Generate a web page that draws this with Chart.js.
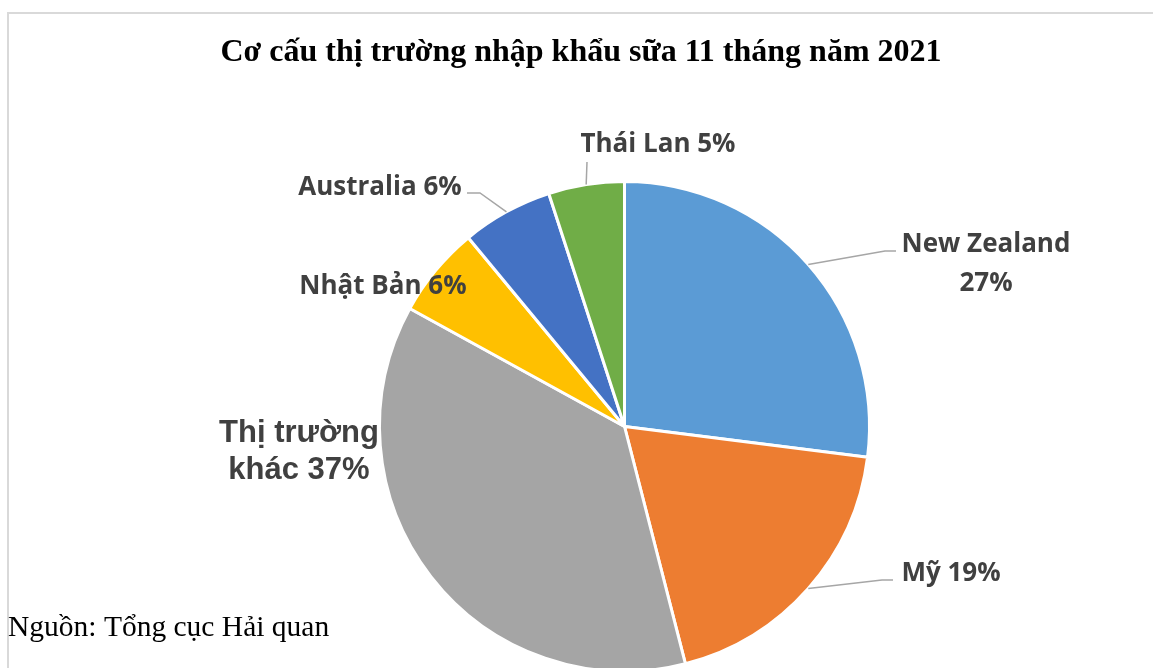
<!DOCTYPE html>
<html>
<head>
<meta charset="utf-8">
<script src="https://cdn.jsdelivr.net/npm/chart.js@4.4.0/dist/chart.umd.min.js"></script>
<style>
html, body { margin: 0; padding: 0; background: #fff; overflow: hidden; }
#wrap { position: relative; width: 1153px; height: 700px; }
</style>
</head>
<body>
<div id="wrap"><canvas id="pieChart" width="1153" height="700"></canvas></div>
<script>
// Du lieu: co cau thi truong nhap khau sua 11 thang nam 2021 (%)
const markets = ['New Zealand', 'Mỹ', 'Thị trường khác', 'Nhật Bản', 'Australia', 'Thái Lan'];
const shares = [27, 19, 37, 6, 6, 5];
const sliceColors = ['#5B9BD5', '#ED7D31', '#A5A5A5', '#FFC000', '#4472C4', '#70AD47'];

const chartTitle = 'Cơ cấu thị trường nhập khẩu sữa 11 tháng năm 2021';
const sourceNote = 'Nguồn: Tổng cục Hải quan';

// Bo cuc nhan (vi tri chu, diem gay cua duong dan)
const labelLayout = [
    { lines: ['New Zealand', '27%'], x: 986, y: 252, lh: 39, elbow: [885, 251], end: [896, 251] },
    { lines: ['Mỹ 19%'], x: 951, y: 581, elbow: [882, 580], end: [893, 580] },
    { lines: ['Thị trường', 'khác 37%'], x: 299, y: 442, lh: 37, font: 'bold 31px "Liberation Sans", Arial, sans-serif' },
    { lines: ['Nhật Bản 6%'], x: 383, y: 294 },
    { lines: ['Australia 6%'], x: 380, y: 195, elbow: [480, 193], end: [467, 193] },
    { lines: ['Thái Lan 5%'], x: 658, y: 152, end: [587, 162] }
];

const decorPlugin = {
    id: 'decor',
    beforeDraw(chart) {
        const ctx = chart.ctx;
        ctx.save();
        ctx.fillStyle = '#fff';
        ctx.fillRect(0, 0, chart.width, chart.height);
        // khung vien
        ctx.strokeStyle = '#D9D9D9';
        ctx.lineWidth = 2;
        ctx.beginPath();
        ctx.moveTo(chart.width + 2, 13);
        ctx.lineTo(8, 13);
        ctx.lineTo(8, chart.height + 2);
        ctx.stroke();
        ctx.restore();
    },
    afterDraw(chart) {
        const ctx = chart.ctx;
        const arcs = chart.getDatasetMeta(0).data;
        ctx.save();

        // tieu de
        ctx.fillStyle = '#000';
        ctx.font = 'bold 32px "Liberation Serif", "Times New Roman", serif';
        ctx.textAlign = 'center';
        ctx.textBaseline = 'alphabetic';
        ctx.fillText(chartTitle, 581, 61);

        // nguon
        ctx.font = '29.5px "Liberation Serif", "Times New Roman", serif';
        ctx.textAlign = 'left';
        ctx.fillText(sourceNote, 8, 636);

        // duong dan va nhan
        labelLayout.forEach((lab, i) => {
            const arc = arcs[i];
            if (lab.end) {
                const p = arc.getProps(['x', 'y', 'startAngle', 'endAngle', 'outerRadius'], true);
                const mid = (p.startAngle + p.endAngle) / 2;
                ctx.strokeStyle = '#A6A6A6';
                ctx.lineWidth = 1.5;
                ctx.beginPath();
                ctx.moveTo(p.x + Math.cos(mid) * p.outerRadius, p.y + Math.sin(mid) * p.outerRadius);
                if (lab.elbow) ctx.lineTo(lab.elbow[0], lab.elbow[1]);
                ctx.lineTo(lab.end[0], lab.end[1]);
                ctx.stroke();
            }
            ctx.fillStyle = '#404040';
            ctx.font = lab.font || 'bold 26px "Open Sans", sans-serif';
            ctx.textAlign = 'center';
            lab.lines.forEach((t, k) => {
                ctx.fillText(t, lab.x, lab.y + k * (lab.lh || 0));
            });
        });
        ctx.restore();
    }
};

const ctx = document.getElementById('pieChart').getContext('2d');
const chart = new Chart(ctx, {
    type: 'pie',
    data: {
        labels: markets,
        datasets: [{
            data: shares,
            backgroundColor: sliceColors,
            borderColor: '#ffffff',
            borderWidth: 3
        }]
    },
    options: {
        responsive: false,
        animation: false,
        devicePixelRatio: 1,
        layout: { padding: { left: 378, right: 282, top: 180, bottom: 27 } },
        plugins: {
            legend: { display: false },
            title: { display: false },
            tooltip: { enabled: false }
        }
    },
    plugins: [decorPlugin]
});
</script>
</body>
</html>
